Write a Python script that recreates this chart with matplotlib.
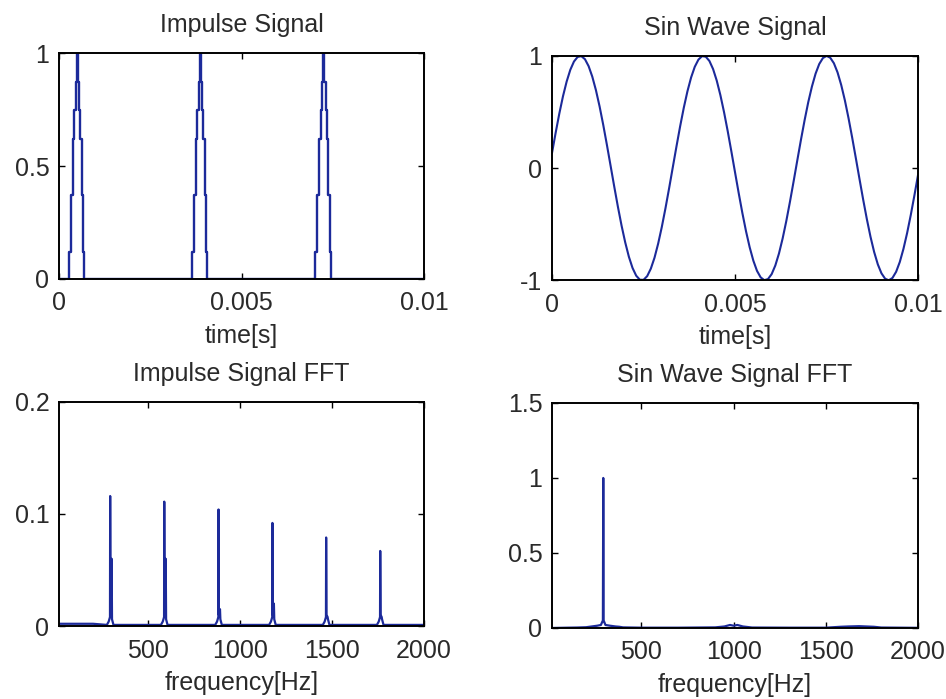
import matplotlib.pyplot as plt

plt.rcParams['font.family'] = ['Liberation Sans', 'DejaVu Sans']

LINE = '#1c2a9a'

# 時間信号 (インパルス列) - 階段状の三角パルス
imp_t = [0.0,
         0.00022, 0.00027, 0.00032, 0.00037, 0.00042, 0.00046, 0.00049,
         0.00052, 0.00055, 0.00058, 0.00062, 0.00066, 0.00069,
         0.00359, 0.00364, 0.00369, 0.00374, 0.00379, 0.00383, 0.00386,
         0.00389, 0.00392, 0.00395, 0.00399, 0.00403, 0.00406,
         0.00697, 0.00702, 0.00707, 0.00712, 0.00717, 0.00721, 0.00724,
         0.00727, 0.00730, 0.00733, 0.00737, 0.00741, 0.00744,
         0.01]
imp_y = [0.0,
         0.0, 0.12, 0.37, 0.62, 0.75, 0.87, 1.0, 0.87, 0.75, 0.62, 0.37, 0.12, 0.0,
         0.0, 0.12, 0.37, 0.62, 0.75, 0.87, 1.0, 0.87, 0.75, 0.62, 0.37, 0.12, 0.0,
         0.0, 0.12, 0.37, 0.62, 0.75, 0.87, 1.0, 0.87, 0.75, 0.62, 0.37, 0.12, 0.0,
         0.0]

# 正弦波 (0.0001 s 刻みで読み取り)
sin_t = [i * 0.0001 for i in range(101)]
sin_y = [0.134, 0.315, 0.486, 0.640, 0.771, 0.876, 0.950, 0.991, 0.998, 0.971,
         0.909, 0.816, 0.695, 0.550, 0.385, 0.207, 0.022, -0.164, -0.344, -0.512,
         -0.662, -0.790, -0.890, -0.959, -0.995, -0.996, -0.963, -0.896, -0.799, -0.673,
         -0.524, -0.357, -0.178, 0.008, 0.193, 0.372, 0.538, 0.685, 0.808, 0.903,
         0.967, 0.998, 0.993, 0.955, 0.883, 0.780, 0.650, 0.498, 0.329, 0.148,
         -0.038, -0.223, -0.400, -0.563, -0.706, -0.825, -0.916, -0.974, -0.999, -0.989,
         -0.945, -0.868, -0.761, -0.627, -0.472, -0.300, -0.118, 0.068, 0.252, 0.427,
         0.588, 0.727, 0.842, 0.928, 0.981, 1.000, 0.984, 0.935, 0.853, 0.741,
         0.604, 0.445, 0.271, 0.088, -0.098, -0.281, -0.454, -0.612, -0.748, -0.858,
         -0.938, -0.986, -1.000, -0.979, -0.924, -0.837, -0.720, -0.579, -0.418, -0.242,
         -0.058]

# インパルス信号のスペクトル
imp_f = [15, 200,
         275, 285, 292, 293, 295, 301, 303, 311, 380,
         569, 579, 586, 587, 589, 595, 597, 605, 700,
         864, 874, 881, 882, 884, 890, 892, 900, 1000,
         1157, 1167, 1174, 1175, 1177, 1183, 1185, 1193, 1300,
         1449, 1459, 1466, 1467, 1469, 1475, 1477, 1485, 1600,
         1743, 1753, 1760, 1761, 1763, 1769, 1771, 1779, 2000]
imp_m = [0.002, 0.002,
         0.001, 0.004, 0.008, 0.116, 0.010, 0.060, 0.006, 0.001, 0.001,
         0.001, 0.004, 0.008, 0.111, 0.010, 0.060, 0.006, 0.001, 0.001,
         0.001, 0.004, 0.008, 0.104, 0.010, 0.015, 0.006, 0.001, 0.001,
         0.001, 0.004, 0.008, 0.092, 0.010, 0.020, 0.006, 0.001, 0.001,
         0.001, 0.004, 0.008, 0.079, 0.010, 0.008, 0.006, 0.001, 0.001,
         0.001, 0.004, 0.008, 0.067, 0.010, 0.008, 0.006, 0.001, 0.001]

# 正弦波のスペクトル
sin_f = [15, 100, 150, 200, 230, 260, 280, 291, 293, 295, 305, 330, 360, 380, 400,
         500, 700, 900, 950, 980, 1000, 1020, 1050, 1100, 1300, 1500, 1580, 1620,
         1680, 1720, 1760, 1800, 2000]
sin_m = [0.0, 0.002, 0.003, 0.005, 0.010, 0.015, 0.020, 0.050, 1.0, 0.050, 0.020,
         0.015, 0.010, 0.008, 0.004, 0.002, 0.002, 0.004, 0.010, 0.020, 0.015, 0.020,
         0.010, 0.003, 0.002, 0.002, 0.008, 0.010, 0.012, 0.010, 0.008, 0.003, 0.001]

fig = plt.figure(figsize=(9.46, 6.99), dpi=100)
ax1 = fig.add_axes([0.0624, 0.601, 0.386, 0.323])
ax2 = fig.add_axes([0.5835, 0.599, 0.387, 0.321])
ax3 = fig.add_axes([0.0624, 0.1044, 0.386, 0.3206])
ax4 = fig.add_axes([0.5835, 0.1016, 0.387, 0.3219])

ax1.step(imp_t, imp_y, where='post', color=LINE, lw=1.7)
ax2.plot(sin_t, sin_y, color=LINE, lw=1.5)
ax3.plot(imp_f, imp_m, color=LINE, lw=1.6)
ax4.plot(sin_f, sin_m, color=LINE, lw=1.6)

ax1.set_xlim(0, 0.01)
ax1.set_ylim(0, 1)
ax1.set_xticks([0, 0.005, 0.01], ['0', '0.005', '0.01'])
ax1.set_yticks([0, 0.5, 1], ['0', '0.5', '1'])

ax2.set_xlim(0, 0.01)
ax2.set_ylim(-1, 1)
ax2.set_xticks([0, 0.005, 0.01], ['0', '0.005', '0.01'])
ax2.set_yticks([-1, 0, 1], ['-1', '0', '1'])

ax3.set_xlim(15, 2000)
ax3.set_ylim(0, 0.2)
ax3.set_xticks([500, 1000, 1500, 2000], ['500', '1000', '1500', '2000'])
ax3.set_yticks([0, 0.1, 0.2], ['0', '0.1', '0.2'])

ax4.set_xlim(15, 2000)
ax4.set_ylim(0, 1.5)
ax4.set_xticks([500, 1000, 1500, 2000], ['500', '1000', '1500', '2000'])
ax4.set_yticks([0, 0.5, 1, 1.5], ['0', '0.5', '1', '1.5'])

titles = ['Impulse Signal', 'Sin Wave Signal', 'Impulse Signal FFT', 'Sin Wave Signal FFT']
xlabels = ['time[s]', 'time[s]', 'frequency[Hz]', 'frequency[Hz]']

for ax, ttl, xl in zip([ax1, ax2, ax3, ax4], titles, xlabels):
    ax.set_title(ttl, fontsize=18, pad=15, color='#2a2a2a')
    ax.set_xlabel(xl, fontsize=18, labelpad=6, color='#2a2a2a')
    ax.tick_params(direction='in', length=4, width=1, top=True, right=True,
                   labelsize=18, pad=9, labelcolor='#2a2a2a')
    ax.tick_params(axis='y', pad=7)
    for sp in ax.spines.values():
        sp.set_linewidth(1.4)

fig.savefig('out.png', dpi=100, facecolor='white')
